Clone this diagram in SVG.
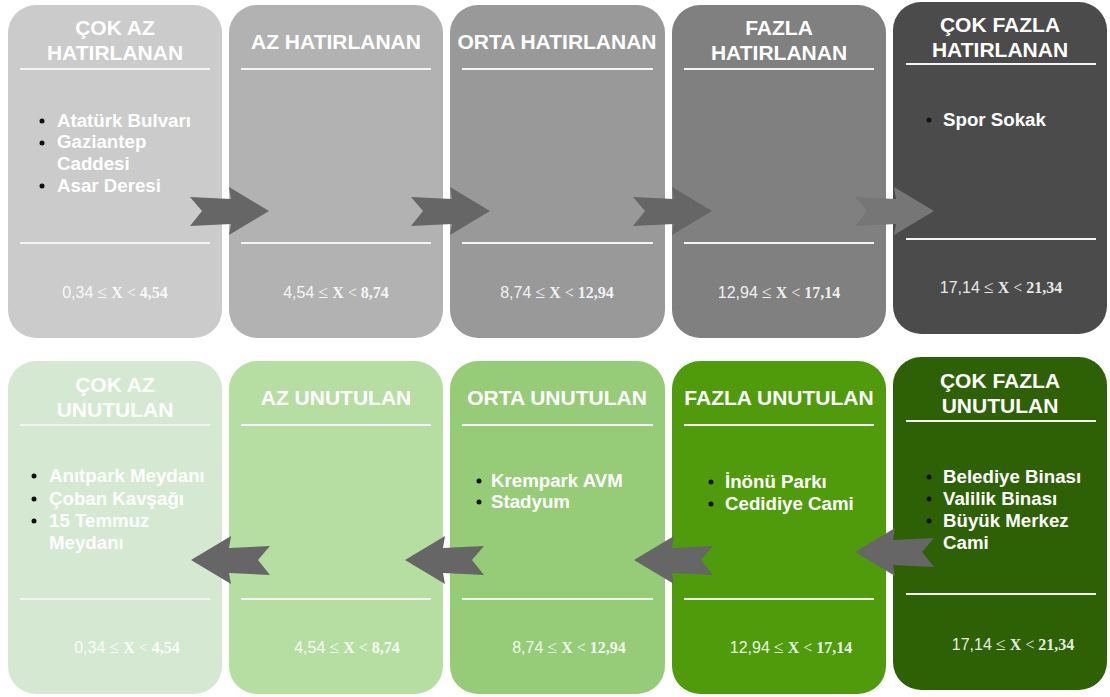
<svg xmlns="http://www.w3.org/2000/svg" width="1110" height="697" viewBox="0 0 1110 697">
<style>
.box{stroke:none}
.ln{stroke:#f4f4f4;stroke-width:2}
.tt{font-family:"Liberation Sans",Arial,sans-serif;font-weight:bold;font-size:21px;fill:#fff;text-anchor:middle}
.it{font-family:"Liberation Sans",Arial,sans-serif;font-weight:bold;font-size:18.7px;fill:#fff}
.num{font-family:"Liberation Serif","Times New Roman",serif;font-size:16px;fill:#fff;fill-opacity:0.9;text-anchor:middle}
.ns{font-family:"Liberation Sans",Arial,sans-serif}
.b{font-weight:bold}
.le{font-size:18px}
.arr{fill:#666}
</style>
<defs>
<path id="ar" d="M0,-14 L41,-12 L39,-24 L79,0 L39,24 L41,13 L0,15 L12,0 Z"/>
<path id="al" d="M0,-14 L-41,-12 L-39,-24 L-79,0 L-39,24 L-41,13 L0,15 L-12,0 Z"/>
</defs>

<g id="h1">
<rect class="box" x="8" y="5" width="214" height="333" rx="28" fill="#cbcbcb"/>
<line class="ln" x1="20" y1="69" x2="210" y2="69"/>
<line class="ln" x1="20" y1="243" x2="210" y2="243"/>
<text class="tt" x="115" y="35">ÇOK AZ</text>
<text class="tt" x="115" y="60">HATIRLANAN</text>
<circle cx="42" cy="121" r="2.5" fill="#111"/>
<circle cx="42" cy="143" r="2.5" fill="#111"/>
<circle cx="42" cy="186" r="2.5" fill="#111"/>
<text class="it" x="57" y="127">Atatürk Bulvarı</text>
<text class="it" x="57" y="148">Gaziantep</text>
<text class="it" x="57" y="170">Caddesi</text>
<text class="it" x="57" y="192">Asar Deresi</text>
<text class="num" x="115" y="298"><tspan class="ns">0,34</tspan> <tspan class="le">≤</tspan> <tspan class="b">X</tspan> &lt; <tspan class="b">4,54</tspan></text>
</g>

<g id="h2">
<rect class="box" x="229" y="5" width="214" height="333" rx="28" fill="#b2b2b2"/>
<line class="ln" x1="241" y1="69" x2="431" y2="69"/>
<line class="ln" x1="241" y1="243" x2="431" y2="243"/>
<text class="tt" x="336" y="49">AZ HATIRLANAN</text>
<text class="num" x="336" y="298"><tspan class="ns">4,54</tspan> <tspan class="le">≤</tspan> <tspan class="b">X</tspan> &lt; <tspan class="b">8,74</tspan></text>
</g>

<g id="h3">
<rect class="box" x="450" y="5" width="215" height="333" rx="28" fill="#999999"/>
<line class="ln" x1="462" y1="69" x2="653" y2="69"/>
<line class="ln" x1="462" y1="243" x2="653" y2="243"/>
<text class="tt" x="557" y="49">ORTA HATIRLANAN</text>
<text class="num" x="557" y="298"><tspan class="ns">8,74</tspan> <tspan class="le">≤</tspan> <tspan class="b">X</tspan> &lt; <tspan class="b">12,94</tspan></text>
</g>

<g id="h4">
<rect class="box" x="672" y="5" width="214" height="333" rx="28" fill="#808080"/>
<line class="ln" x1="684" y1="69" x2="874" y2="69"/>
<line class="ln" x1="684" y1="243" x2="874" y2="243"/>
<text class="tt" x="779" y="35">FAZLA</text>
<text class="tt" x="779" y="60">HATIRLANAN</text>
<text class="num" x="779" y="298"><tspan class="ns">12,94</tspan> <tspan class="le">≤</tspan> <tspan class="b">X</tspan> &lt; <tspan class="b">17,14</tspan></text>
</g>

<g id="h5">
<rect class="box" x="893" y="2" width="214" height="332" rx="28" fill="#4b4b4b"/>
<line class="ln" x1="906" y1="64" x2="1096" y2="64"/>
<line class="ln" x1="906" y1="239" x2="1096" y2="239"/>
<text class="tt" x="1000" y="32">ÇOK FAZLA</text>
<text class="tt" x="1000" y="57">HATIRLANAN</text>
<circle cx="929" cy="120" r="2.5" fill="#111"/>
<text class="it" x="943" y="126">Spor Sokak</text>
<text class="num" x="1001" y="293"><tspan class="ns">17,14</tspan> <tspan class="le">≤</tspan> <tspan class="b">X</tspan> &lt; <tspan class="b">21,34</tspan></text>
</g>

<g id="u1">
<rect class="box" x="8" y="361" width="214" height="333" rx="28" fill="#d5e8d2"/>
<line class="ln" x1="20" y1="425" x2="210" y2="425"/>
<line class="ln" x1="20" y1="599" x2="210" y2="599"/>
<text class="tt" x="115" y="392">ÇOK AZ</text>
<text class="tt" x="115" y="417">UNUTULAN</text>
<circle cx="34" cy="476" r="2.5" fill="#111"/>
<circle cx="34" cy="499" r="2.5" fill="#111"/>
<circle cx="34" cy="521" r="2.5" fill="#111"/>
<text class="it" x="49" y="482">Anıtpark Meydanı</text>
<text class="it" x="49" y="505">Çoban Kavşağı</text>
<text class="it" x="49" y="527">15 Temmuz</text>
<text class="it" x="49" y="549">Meydanı</text>
<text class="num" x="127" y="653"><tspan class="ns">0,34</tspan> <tspan class="le">≤</tspan> <tspan class="b">X</tspan> &lt; <tspan class="b">4,54</tspan></text>
</g>

<g id="u2">
<rect class="box" x="229" y="361" width="214" height="333" rx="28" fill="#b6dea3"/>
<line class="ln" x1="241" y1="425" x2="431" y2="425"/>
<line class="ln" x1="241" y1="599" x2="431" y2="599"/>
<text class="tt" x="336" y="405">AZ UNUTULAN</text>
<text class="num" x="347" y="653"><tspan class="ns">4,54</tspan> <tspan class="le">≤</tspan> <tspan class="b">X</tspan> &lt; <tspan class="b">8,74</tspan></text>
</g>

<g id="u3">
<rect class="box" x="450" y="361" width="215" height="333" rx="28" fill="#96cc77"/>
<line class="ln" x1="462" y1="425" x2="653" y2="425"/>
<line class="ln" x1="462" y1="599" x2="653" y2="599"/>
<text class="tt" x="557" y="405">ORTA UNUTULAN</text>
<circle cx="479" cy="481" r="2.5" fill="#111"/>
<circle cx="479" cy="502" r="2.5" fill="#111"/>
<text class="it" x="491" y="487">Krempark AVM</text>
<text class="it" x="491" y="508">Stadyum</text>
<text class="num" x="569" y="653"><tspan class="ns">8,74</tspan> <tspan class="le">≤</tspan> <tspan class="b">X</tspan> &lt; <tspan class="b">12,94</tspan></text>
</g>

<g id="u4">
<rect class="box" x="672" y="361" width="214" height="333" rx="28" fill="#4f9b0b"/>
<line class="ln" x1="684" y1="425" x2="874" y2="425"/>
<line class="ln" x1="684" y1="599" x2="874" y2="599"/>
<text class="tt" x="779" y="405">FAZLA UNUTULAN</text>
<circle cx="711" cy="482" r="2.5" fill="#111"/>
<circle cx="711" cy="504" r="2.5" fill="#111"/>
<text class="it" x="725" y="488">İnönü Parkı</text>
<text class="it" x="725" y="510">Cedidiye Cami</text>
<text class="num" x="791" y="653"><tspan class="ns">12,94</tspan> <tspan class="le">≤</tspan> <tspan class="b">X</tspan> &lt; <tspan class="b">17,14</tspan></text>
</g>

<g id="u5">
<rect class="box" x="893" y="357" width="214" height="333" rx="28" fill="#2e6106"/>
<line class="ln" x1="906" y1="421" x2="1096" y2="421"/>
<line class="ln" x1="906" y1="594" x2="1096" y2="594"/>
<text class="tt" x="1000" y="388">ÇOK FAZLA</text>
<text class="tt" x="1000" y="413">UNUTULAN</text>
<circle cx="929" cy="477" r="2.5" fill="#111"/>
<circle cx="929" cy="499" r="2.5" fill="#111"/>
<circle cx="929" cy="521" r="2.5" fill="#111"/>
<text class="it" x="943" y="483">Belediye Binası</text>
<text class="it" x="943" y="505">Valilik Binası</text>
<text class="it" x="943" y="527">Büyük Merkez</text>
<text class="it" x="943" y="549">Cami</text>
<text class="num" x="1013" y="650"><tspan class="ns">17,14</tspan> <tspan class="le">≤</tspan> <tspan class="b">X</tspan> &lt; <tspan class="b">21,34</tspan></text>
</g>

<g id="connectors">
<use href="#ar" class="arr" x="190" y="211"/>
<use href="#ar" class="arr" x="411" y="211"/>
<use href="#ar" class="arr" x="633" y="211"/>
<use href="#ar" x="855" y="211" fill="#767676"/>
<use href="#al" class="arr" x="270" y="560"/>
<use href="#al" class="arr" x="484" y="560"/>
<use href="#al" class="arr" x="713" y="560"/>
<use href="#al" class="arr" x="934" y="552"/>
</g>
</svg>
